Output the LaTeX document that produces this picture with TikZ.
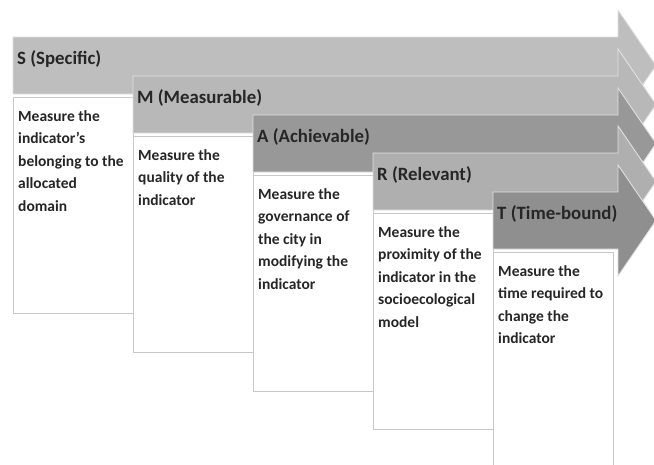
\documentclass[tikz,border=0pt]{standalone}
\usepackage{fontspec}
\setmainfont{Carlito}
\definecolor{cS}{RGB}{190,190,190}
\definecolor{cM}{RGB}{184,184,184}
\definecolor{cA}{RGB}{152,152,152}
\definecolor{cR}{RGB}{175,175,175}
\definecolor{cT}{RGB}{143,143,143}
\definecolor{bandline}{RGB}{225,225,225}
\definecolor{boxline}{RGB}{200,200,200}
\tikzset{
  arrowband/.style={draw=bandline, line width=0.9pt, line join=miter},
  descbox/.style={draw=boxline, line width=0.9pt, fill=white, rectangle, inner sep=0pt,
    anchor=north west, minimum width=120pt, minimum height=216pt},
  headtext/.style={anchor=west, inner sep=0pt, text=black!85,
    font=\bfseries\fontsize{18.8}{22}\selectfont},
  bodytext/.style={anchor=north west, inner sep=0pt, align=left, text=black!85,
    font=\bfseries\fontsize{15.5}{22.5}\selectfont},
}
\newcommand{\smartband}[3]{%
  \path[arrowband, fill=#3] (#1,#2) -- (618,#2) -- (618,#2-27) -- (656,#2+28.5)
    -- (618,#2+84) -- (618,#2+57) -- (#1,#2+57) -- cycle;}
\begin{document}
\begin{tikzpicture}[x=1pt,y=-1pt]
\useasboundingbox (0,0) rectangle (654,464);
\clip (0,0) rectangle (654,464);
% S
\smartband{13}{37}{cS}
\node[headtext] (hs) at (17,59) {S (Specific)};
\node[descbox] (bs) at (13,97) {};
\node[bodytext] (ts) at ([shift={(5,13)}]bs.north west) {Measure the\\indicator’s\\belonging to the\\allocated\\domain};
% M
\smartband{133}{76}{cM}
\node[headtext] (hm) at (137,98) {M (Measurable)};
\node[descbox] (bm) at (133,136) {};
\node[bodytext] (tm) at ([shift={(5,13)}]bm.north west) {Measure the\\quality of the\\indicator};
% A
\smartband{253}{115}{cA}
\node[headtext] (ha) at (257,137) {A (Achievable)};
\node[descbox] (ba) at (253,175) {};
\node[bodytext] (ta) at ([shift={(5,13)}]ba.north west) {Measure the\\governance of\\the city in\\modifying the\\indicator};
% R
\smartband{373}{153}{cR}
\node[headtext] (hr) at (377,175) {R (Relevant)};
\node[descbox] (br) at (373,213) {};
\node[bodytext] (tr) at ([shift={(5,13)}]br.north west) {Measure the\\proximity of the\\indicator in the\\socioecological\\model};
% T
\smartband{493}{192}{cT}
\node[headtext] (ht) at (497,214) {T (Time-bound)};
\node[descbox] (bt) at (493,252) {};
\node[bodytext] (tt) at ([shift={(5,13)}]bt.north west) {Measure the\\time required to\\change the\\indicator};
\end{tikzpicture}
\end{document}
